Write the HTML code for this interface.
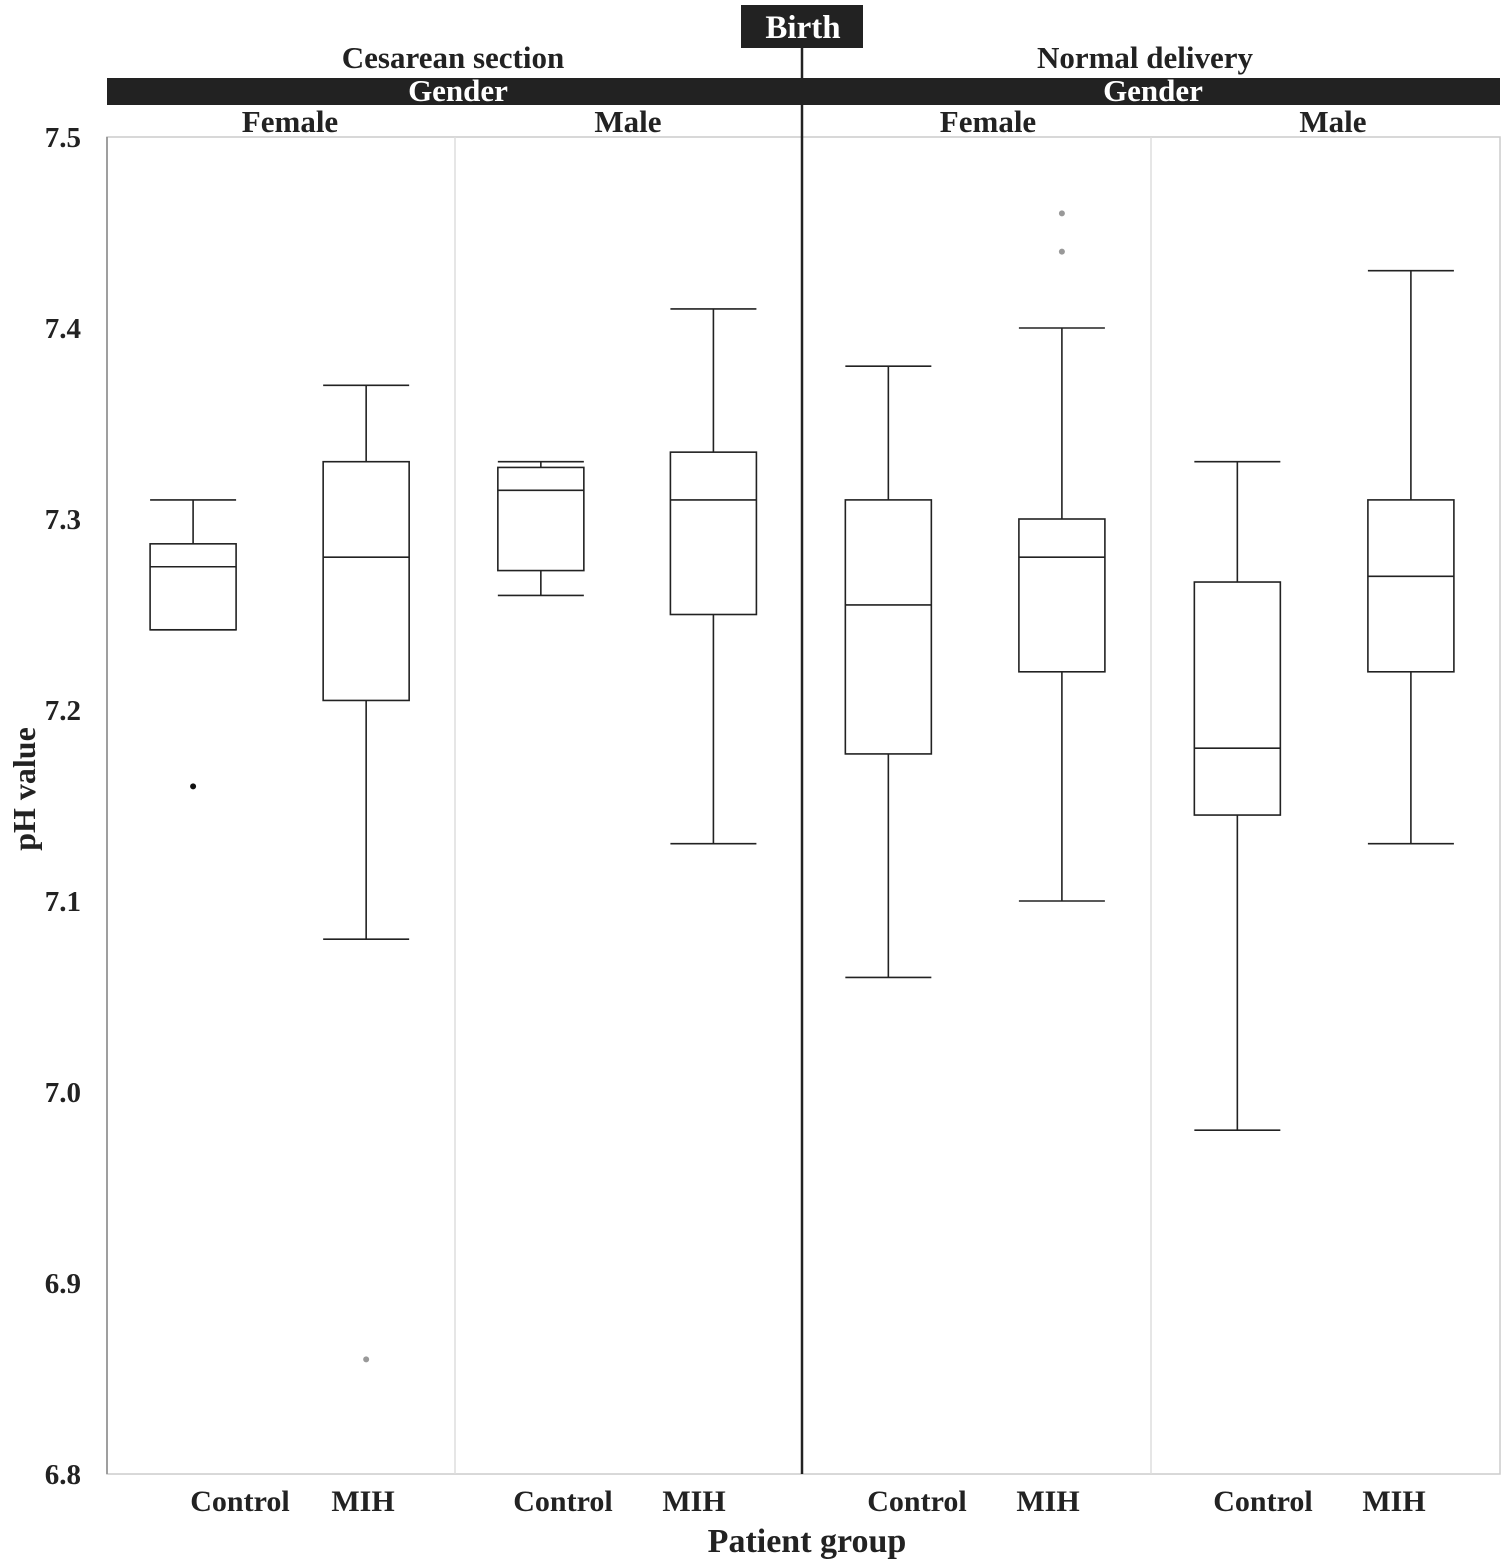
<!DOCTYPE html>
<html><head><meta charset="utf-8"><style>
html,body{margin:0;padding:0;background:#fff;}
svg{display:block;font-family:"Liberation Serif",serif;font-weight:bold;}
</style></head><body>
<svg id="chart" width="1505" height="1564" viewBox="0 0 1505 1564" xmlns="http://www.w3.org/2000/svg">
<rect x="741" y="5" width="122" height="43" fill="#222"/>
<text x="803" y="38" font-size="33" fill="#fff" text-anchor="middle">Birth</text>
<text x="453" y="68" font-size="31" text-anchor="middle" fill="#222">Cesarean section</text>
<text x="1145" y="68" font-size="31" text-anchor="middle" fill="#222">Normal delivery</text>
<rect x="107" y="78" width="1393" height="27" fill="#222"/>
<text x="458" y="101" font-size="31" fill="#fff" text-anchor="middle">Gender</text>
<text x="1153" y="101" font-size="31" fill="#fff" text-anchor="middle">Gender</text>
<text x="290" y="132" font-size="31" text-anchor="middle" fill="#222">Female</text>
<text x="628" y="132" font-size="31" text-anchor="middle" fill="#222">Male</text>
<text x="988" y="132" font-size="31" text-anchor="middle" fill="#222">Female</text>
<text x="1333" y="132" font-size="31" text-anchor="middle" fill="#222">Male</text>
<rect x="107" y="137" width="1393" height="1337" fill="none" stroke="#ccc" stroke-width="1.5"/>
<line x1="107" y1="137" x2="107" y2="1474" stroke="#888" stroke-width="1.5"/>
<line x1="455" y1="137" x2="455" y2="1474" stroke="#ddd" stroke-width="1.5"/>
<line x1="1151" y1="137" x2="1151" y2="1474" stroke="#ddd" stroke-width="1.5"/>
<line x1="802" y1="48" x2="802" y2="1474" stroke="#222" stroke-width="2.5"/>
<text transform="translate(35,789) rotate(-90)" font-size="32" text-anchor="middle" fill="#222">pH value</text>
<text x="807" y="1552" font-size="34" text-anchor="middle" fill="#222">Patient group</text>
<g id="ticks"></g>
<g id="xlabels"></g>
<g id="boxes"></g>
</svg>
<script>
const tickValues=[7.5,7.4,7.3,7.2,7.1,7.0,6.9,6.8];
const groupLabels=["Control","MIH","Control","MIH","Control","MIH","Control","MIH"];
const whiskerHigh=[7.31,7.37,7.33,7.41,7.38,7.40,7.33,7.43];
const q3Values=[7.287,7.33,7.327,7.335,7.31,7.30,7.267,7.31];
const medianValues=[7.275,7.28,7.315,7.31,7.255,7.28,7.18,7.27];
const q1Values=[7.242,7.205,7.273,7.25,7.177,7.22,7.145,7.22];
const whiskerLow=[7.242,7.08,7.26,7.13,7.06,7.10,6.98,7.13];
const outliers=[[7.16],[6.86],[],[],[],[7.46,7.44],[],[]];
const outlierBlack=[true,false,false,false,false,false,false,false];
const NS="http://www.w3.org/2000/svg";
const labelCenters=[240,363,563,694,917,1048,1263,1394];
function y(v){return 137+(7.5-v)/0.7*1337;}
function boxX(i){const panel=Math.floor(i/2);const pl=[107,455,802,1151][panel];const pw=[348,347,349,349][panel];return pl+pw*(i%2===0?0.2474:0.7447);}
function mk(tag,attrs,parent){const e=document.createElementNS(NS,tag);for(const k in attrs)e.setAttribute(k,attrs[k]);parent.appendChild(e);return e;}
const tg=document.getElementById('ticks');
tickValues.forEach(v=>{
 const t=mk('text',{x:81,y:y(v)+10,'font-size':29,'text-anchor':'end',fill:'#222'},tg);
 t.textContent=v.toFixed(1);
 
 
});
const xg=document.getElementById('xlabels');
groupLabels.forEach((l,i)=>{
 const t=mk('text',{x:labelCenters[i],y:1511,'font-size':30,'text-anchor':'middle',fill:'#222'},xg);
 t.textContent=l;
 
 
});
const bg=document.getElementById('boxes');
groupLabels.forEach((l,i)=>{
 const cx=boxX(i),hw=43;
 const g=mk('g',{stroke:'#222','stroke-width':1.6,fill:'none'},bg);
 
 
 mk('line',{x1:cx,x2:cx,y1:y(whiskerHigh[i]),y2:y(q3Values[i])},g);
 mk('line',{x1:cx,x2:cx,y1:y(q1Values[i]),y2:y(whiskerLow[i])},g);
 mk('line',{x1:cx-hw,x2:cx+hw,y1:y(whiskerHigh[i]),y2:y(whiskerHigh[i])},g);
 mk('line',{x1:cx-hw,x2:cx+hw,y1:y(whiskerLow[i]),y2:y(whiskerLow[i])},g);
 mk('rect',{x:cx-hw,y:y(q3Values[i]),width:hw*2,height:y(q1Values[i])-y(q3Values[i])},g);
 mk('line',{x1:cx-hw,x2:cx+hw,y1:y(medianValues[i]),y2:y(medianValues[i])},g);
 outliers[i].forEach(o=>{
  const c=mk('circle',{cx:cx,cy:y(o),r:3,fill:outlierBlack[i]?'#111':'#999',stroke:'none'},bg);
  
  
 });
});
</script>
</body></html>
